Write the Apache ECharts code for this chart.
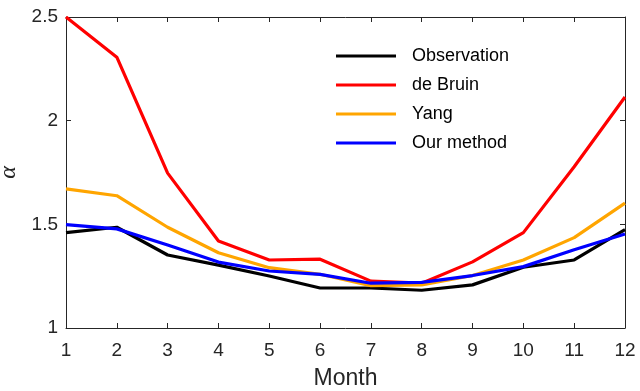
<!DOCTYPE html>
<html>
<head>
<meta charset="utf-8">
<script src="https://cdn.jsdelivr.net/npm/echarts@6/dist/echarts.min.js"></script>
<style>
  html, body { margin: 0; padding: 0; background: #fff; }
  #chart { width: 640px; height: 391px; }
</style>
</head>
<body>
<div id="chart"></div>
<script>
// Monthly alpha coefficient: observed vs. three estimation methods
const months = [1, 2, 3, 4, 5, 6, 7, 8, 9, 10, 11, 12];
const observation = [1.46, 1.486, 1.352, 1.303, 1.251, 1.193, 1.193, 1.182, 1.208, 1.293, 1.328, 1.475];
const deBruin    = [2.50, 2.306, 1.747, 1.420, 1.328, 1.332, 1.226, 1.216, 1.319, 1.460, 1.778, 2.114];
const yang       = [1.671, 1.638, 1.486, 1.363, 1.291, 1.259, 1.204, 1.208, 1.253, 1.328, 1.436, 1.602];
const ourMethod  = [1.499, 1.478, 1.400, 1.318, 1.275, 1.259, 1.216, 1.220, 1.253, 1.296, 1.377, 1.453];
const yTicks = [1, 1.5, 2, 2.5];

const axisColor = '#262626';
const font = 'Liberation Sans, Arial, Helvetica, sans-serif';

const toPairs = arr => months.map((m, i) => [m, arr[i]]);

const seriesDefs = [
  { name: 'Observation', data: observation, color: '#000000' },
  { name: 'de Bruin', data: deBruin, color: '#ff0000' },
  { name: 'Yang', data: yang, color: '#ffa500' },
  { name: 'Our method', data: ourMethod, color: '#0000ff' }
];

const chart = echarts.init(document.getElementById('chart'), null, { renderer: 'canvas' });

const baseAxisLine = { show: true, lineStyle: { color: axisColor, width: 1 } };
const baseTick = { show: true, inside: true, length: 5, lineStyle: { color: axisColor, width: 1 } };

chart.setOption({
  animation: false,
  backgroundColor: '#ffffff',
  grid: { left: 66, right: 15, top: 17, bottom: 63, containLabel: false, outerBoundsMode: 'none' },
  legend: {
    orient: 'vertical',
    left: 331,
    top: 41,
    itemWidth: 60,
    itemHeight: 3,
    itemGap: 9,
    icon: 'rect',
    textStyle: { fontFamily: font, fontSize: 18, color: '#000', padding: [0, 0, 0, 11], lineHeight: 20 },
    data: seriesDefs.map(s => s.name)
  },
  xAxis: [
    {
      type: 'value', min: 1, max: 12, interval: 1,
      position: 'bottom',
      name: 'Month', nameLocation: 'middle', nameGap: 39,
      nameTextStyle: { fontFamily: font, fontSize: 23, color: '#262626' },
      axisLine: baseAxisLine, axisTick: baseTick,
      axisLabel: { fontFamily: font, fontSize: 19, color: '#262626', margin: 13 },
      splitLine: { show: false }
    },
    {
      type: 'value', min: 1, max: 12, interval: 1,
      position: 'top',
      axisLine: baseAxisLine, axisTick: baseTick,
      axisLabel: { show: false }, splitLine: { show: false }
    }
  ],
  yAxis: [
    {
      type: 'value', min: yTicks[0], max: yTicks[yTicks.length - 1], interval: 0.5,
      position: 'left',
      name: 'α', nameLocation: 'middle', nameGap: 42, nameRotate: 90,
      nameTextStyle: { fontFamily: 'Liberation Serif, DejaVu Serif, serif', fontStyle: 'italic', fontSize: 24, color: '#262626' },
      axisLine: baseAxisLine, axisTick: baseTick,
      axisLabel: { fontFamily: font, fontSize: 19, color: '#262626', margin: 8 },
      splitLine: { show: false }
    },
    {
      type: 'value', min: yTicks[0], max: yTicks[yTicks.length - 1], interval: 0.5,
      position: 'right',
      axisLine: baseAxisLine, axisTick: baseTick,
      axisLabel: { show: false }, splitLine: { show: false }
    }
  ],
  series: seriesDefs.map(s => ({
    name: s.name,
    type: 'line',
    data: toPairs(s.data),
    showSymbol: false,
    symbol: 'none',
    lineStyle: { color: s.color, width: 3.2 },
    itemStyle: { color: s.color },
    clip: true
  }))
});
</script>
</body>
</html>
